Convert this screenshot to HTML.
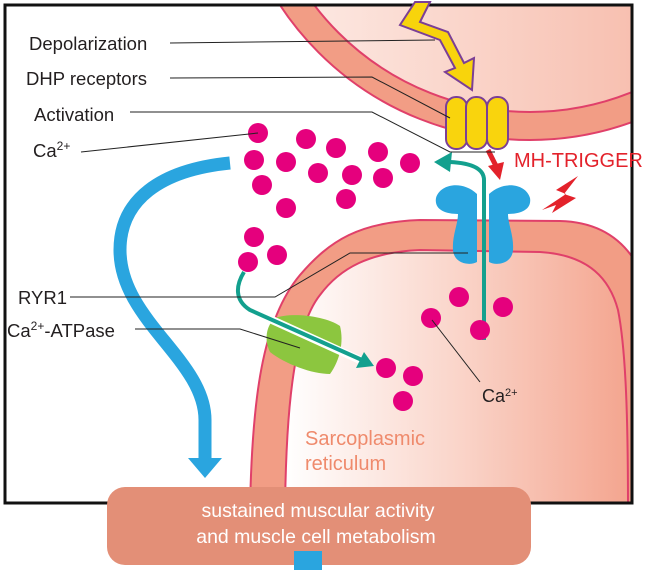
<!DOCTYPE html>
<html><head><meta charset="utf-8"><style>
body{margin:0;background:#fff;}
svg{display:block;font-family:"Liberation Sans",sans-serif;}
</style></head><body>
<svg width="651" height="570" viewBox="0 0 651 570">
<defs>
<linearGradient id="g1" x1="0" x2="1" y1="0" y2="0">
<stop offset="0" stop-color="#fff"/><stop offset="0.5" stop-color="#fad5ca"/><stop offset="1" stop-color="#f4a58f"/>
</linearGradient>
<linearGradient id="g2" x1="0" x2="1"><stop offset="0" stop-color="#fdeee9"/><stop offset="1" stop-color="#f5ab97"/></linearGradient>
<clipPath id="frame"><rect x="5" y="5" width="627" height="498"/></clipPath>
</defs>
<rect x="0" y="0" width="651" height="570" fill="#fff"/>
<g clip-path="url(#frame)">
<circle cx="530" cy="-159" r="299" fill="#f29d85" stroke="#e0406a" stroke-width="2"/>
<circle cx="530" cy="-159" r="271" fill="url(#g2)" stroke="#e0406a" stroke-width="2"/>
<path d="M250 510 C252 400 262 320 300 275 C330 240 360 222 420 220 L560 221 C600 222 625 240 640 270 L640 510 Z" fill="#f29d85" stroke="#e0406a" stroke-width="2"/>
<path d="M285 510 C286 420 292 330 320 295 C340 268 370 252 420 250 L540 252 C590 255 610 280 618 310 C626 350 628 420 628 510 Z" fill="url(#g1)" stroke="#e0406a" stroke-width="2"/>
</g>
<rect x="5" y="5" width="627" height="498" fill="none" stroke="#111" stroke-width="3"/>
<path d="M415 2 L400 25 L440 40 L455 68 L445 72 L472 90 L474 58 L464 63 L448 32 L420 22 L430 2 Z" fill="#f8d40c" stroke="#7b3f96" stroke-width="2"/>
<g fill="#f9d40d" stroke="#7b3f96" stroke-width="2">
<rect x="446" y="97" width="21" height="52" rx="10"/>
<rect x="466" y="97" width="21" height="52" rx="10"/>
<rect x="487" y="97" width="21" height="52" rx="10"/>
</g>
<path d="M488 150 L496 166" stroke="#e3222b" stroke-width="5"/>
<path d="M488 166 L500 180 L504 162 Z" fill="#e3222b"/>
<path d="M578 176 L556 190 L566 194 L542 210 L556 205 L552 213 L576 198 L564 194 Z" fill="#e3222b"/>
<path d="M477 194 C462 180 440 184 436 198 C434 210 446 214 458 214 C458 224 452 236 453 250 C454 264 470 266 477 262 Z" fill="#2aa5df"/>
<path d="M489 194 C504 180 526 184 530 198 C532 210 520 214 508 214 C508 224 514 236 513 250 C512 264 496 266 489 262 Z" fill="#2aa5df"/>
<path d="M484 340 L484 180 C484 168 470 163 450 162" fill="none" stroke="#13a08e" stroke-width="4"/>
<path d="M434 162 L452 152 L450 172 Z" fill="#13a08e"/>
<path d="M275 318 C292 312 325 316 340 326 C344 342 340 360 330 374 C312 374 285 364 270 352 C264 340 266 326 275 318 Z" fill="#8cc63f"/>
<path d="M244 272 C236 285 234 300 250 310 L360 360" fill="none" stroke="#fff" stroke-width="8"/>
<path d="M244 272 C236 285 234 300 250 310 L362 360" fill="none" stroke="#13a08e" stroke-width="4"/>
<path d="M374 366 L356 368 L364 352 Z" fill="#13a08e"/>
<path d="M230 163 C160 170 120 200 120 250 C120 320 205 360 205 420 L205 462" fill="none" stroke="#2aa5df" stroke-width="13"/>
<path d="M188 458 L222 458 L205 478 Z" fill="#2aa5df"/>
<g fill="#e5007d">
<circle cx="258" cy="133" r="10"/><circle cx="306" cy="139" r="10"/><circle cx="254" cy="160" r="10"/><circle cx="286" cy="162" r="10"/>
<circle cx="336" cy="148" r="10"/><circle cx="378" cy="152" r="10"/><circle cx="410" cy="163" r="10"/><circle cx="262" cy="185" r="10"/>
<circle cx="318" cy="173" r="10"/><circle cx="352" cy="175" r="10"/><circle cx="383" cy="178" r="10"/><circle cx="286" cy="208" r="10"/>
<circle cx="346" cy="199" r="10"/><circle cx="254" cy="237" r="10"/><circle cx="277" cy="255" r="10"/><circle cx="248" cy="262" r="10"/>
<circle cx="459" cy="297" r="10"/><circle cx="503" cy="307" r="10"/><circle cx="431" cy="318" r="10"/><circle cx="480" cy="330" r="10"/>
<circle cx="386" cy="368" r="10"/><circle cx="413" cy="376" r="10"/><circle cx="403" cy="401" r="10"/>
</g>
<g fill="none" stroke="#222" stroke-width="1">
<polyline points="170,43 435,40"/>
<polyline points="170,78 372,77 450,118"/>
<polyline points="130,112 372,112 450,152 495,152"/>
<polyline points="81,152 258,133"/>
<polyline points="70,297 275,297 350,253 468,253"/>
<polyline points="135,329 240,329 300,348"/>
<polyline points="432,320 480,382"/>
</g>
<g font-size="18.5" fill="#231f20">
<text x="29" y="50">Depolarization</text>
<text x="26" y="85">DHP receptors</text>
<text x="34" y="121">Activation</text>
<text x="33" y="157">Ca<tspan font-size="12" dy="-7">2+</tspan></text>
<text x="18" y="304">RYR1</text>
<text x="7" y="337">Ca<tspan font-size="12" dy="-7">2+</tspan><tspan dy="7">-ATPase</tspan></text>
<text x="482" y="402" font-size="18">Ca<tspan font-size="11" dy="-6">2+</tspan></text>
</g>
<text x="514" y="167" font-size="20" fill="#e3222b">MH-TRIGGER</text>
<text x="305" y="445" font-size="20" fill="#ef8a6c">Sarcoplasmic</text>
<text x="305" y="470" font-size="20" fill="#ef8a6c">reticulum</text>
<rect x="107" y="487" width="424" height="78" rx="18" fill="#e38f77"/>
<text x="318" y="517" font-size="19.5" fill="#fff" text-anchor="middle">sustained muscular activity</text>
<text x="316" y="543" font-size="19.5" fill="#fff" text-anchor="middle">and muscle cell metabolism</text>
<rect x="294" y="551" width="28" height="19" fill="#2aa5df"/>
</svg>
</body></html>
